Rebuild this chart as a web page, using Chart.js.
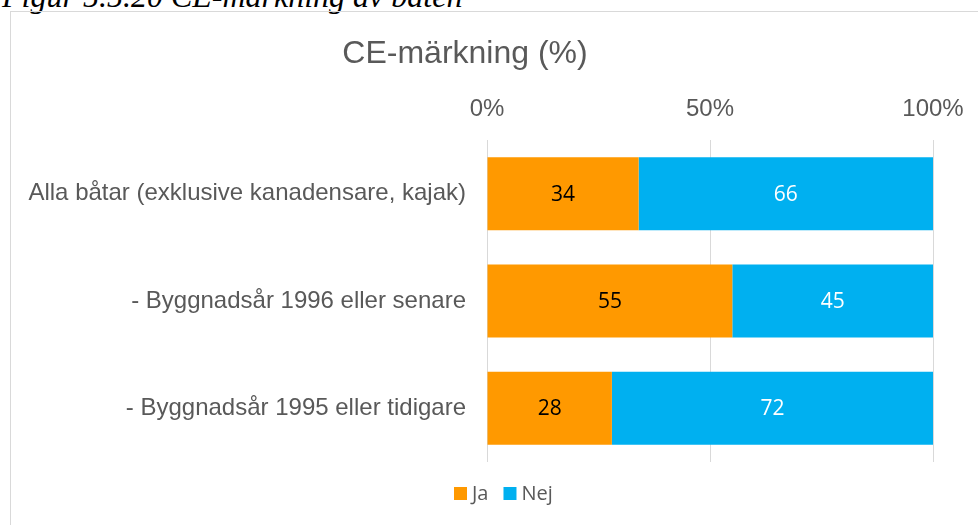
<!DOCTYPE html>
<html>
<head>
<meta charset="utf-8">
<script src="https://cdn.jsdelivr.net/npm/chart.js@4/dist/chart.umd.min.js"></script>
<style>
  body { margin: 0; width: 978px; height: 525px; overflow: hidden; background: #fff; position: relative; }
  #cap { position: absolute; left: 2px; top: -20px; font: italic 32px "Liberation Serif"; line-height: 32px; color: #000; white-space: nowrap; }
  #box { position: absolute; left: 10px; top: 11px; width: 1100px; height: 600px; border: 1px solid #d9d9d9; }
  #c { position: absolute; left: 11px; top: 12px; }
</style>
</head>
<body>
<div id="cap">Figur 5.5.20 CE-märkning av båten</div>
<div id="box"></div>
<canvas id="c" width="988" height="513"></canvas>
<script>
var categories = [
  "Alla båtar (exklusive kanadensare, kajak)",
  "- Byggnadsår 1996 eller senare",
  "- Byggnadsår 1995 eller tidigare"
];
var ja = [34, 55, 28];
var nej = [66, 45, 72];
var seriesNames = ["Ja", "Nej"];
var xTicks = [0, 50, 100];

var grey = "#595959";

// titel ritas för hand, Excel placerar den inte mitt i hela rutan
var titlePlugin = {
  id: "titleText",
  afterDraw: function(chart) {
    var ctx = chart.ctx;
    ctx.save();
    ctx.font = "32px 'Liberation Sans'";
    ctx.fillStyle = grey;
    ctx.textAlign = "center";
    ctx.textBaseline = "middle";
    ctx.fillText("CE-märkning (%)", 454, 42);
    ctx.restore();
  }
};

// legenden också, tätare än Chart.js egen
var legendPlugin = {
  id: "smallLegend",
  afterDraw: function(chart) {
    var ctx = chart.ctx;
    var x = 443, y = 482;
    ctx.save();
    ctx.font = "20px 'Open Sans'";
    ctx.textBaseline = "middle";
    chart.data.datasets.forEach(function(ds) {
      ctx.fillStyle = ds.backgroundColor;
      ctx.fillRect(x, y - 7, 13, 13);
      ctx.fillStyle = grey;
      ctx.fillText(ds.label, x + 18, y);
      x += 18 + ctx.measureText(ds.label).width + 15;
    });
    ctx.restore();
  }
};

// siffror mitt i staplarna
var labelPlugin = {
  id: "barLabels",
  afterDatasetsDraw: function(chart) {
    var ctx = chart.ctx;
    ctx.save();
    ctx.font = "21px 'Open Sans'";
    ctx.textAlign = "center";
    ctx.textBaseline = "middle";
    chart.data.datasets.forEach(function(ds, i) {
      var meta = chart.getDatasetMeta(i);
      meta.data.forEach(function(bar, j) {
        ctx.fillStyle = i == 0 ? "#000" : "#fff";
        ctx.fillText(ds.data[j], (bar.x + bar.base) / 2, bar.y + 1);
      });
    });
    ctx.restore();
  }
};

var chart = new Chart(document.getElementById("c"), {
  type: "bar",
  data: {
    labels: categories,
    datasets: [
      { label: seriesNames[0], data: ja, backgroundColor: "#FF9900" },
      { label: seriesNames[1], data: nej, backgroundColor: "#00B0F0" }
    ]
  },
  options: {
    indexAxis: "y",
    responsive: false,
    animation: false,
    layout: { padding: { top: 70, bottom: 63, left: 0, right: 66 } },
    datasets: { bar: { categoryPercentage: 1, barPercentage: 0.68 } },
    scales: {
      x: {
        stacked: true,
        position: "top",
        min: 0,
        max: 100,
        afterBuildTicks: function(s) { s.ticks = xTicks.map(function(v) { return { value: v }; }); },
        afterFit: function(s) { s.height = 58; },
        ticks: {
          color: grey,
          font: { family: "Liberation Sans", size: 24 },
          padding: 16,
          callback: function(v) { return v + "%"; }
        },
        grid: { color: "#d9d9d9", drawTicks: false },
        border: { display: false }
      },
      y: {
        stacked: true,
        afterFit: function(s) { s.width = 476; },
        ticks: {
          color: grey,
          font: { family: "Liberation Sans", size: 24 },
          padding: 21
        },
        grid: { display: false, drawTicks: false },
        border: { display: false }
      }
    },
    plugins: {
      title: { display: false },
      tooltip: { enabled: false },
      legend: { display: false }
    }
  },
  plugins: [titlePlugin, legendPlugin, labelPlugin]
});
</script>
</body>
</html>
